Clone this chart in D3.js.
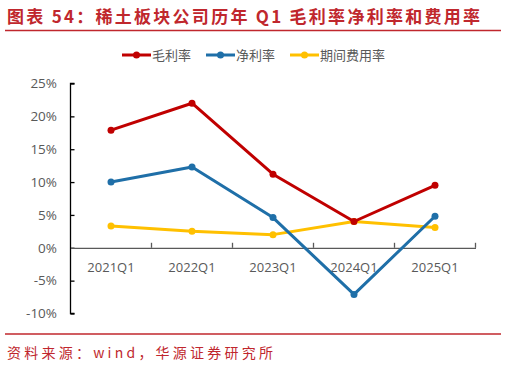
<!DOCTYPE html>
<html>
<head>
<meta charset="utf-8">
<script src="https://cdn.jsdelivr.net/npm/d3@7"></script>
<style>
  html, body { margin: 0; padding: 0; background: #fff; }
  svg { display: block; }
</style>
</head>
<body>
<div id="viz"></div>
<script>
// Rare earth companies, Q1 margins (%)
var quarters = ["2021Q1", "2022Q1", "2023Q1", "2024Q1", "2025Q1"];
var grossMargin = [17.9, 22.0, 11.2, 4.0, 9.5];
var netMargin = [10.0, 12.3, 4.6, -7.1, 4.8];
var expenseRatio = [3.3, 2.5, 2.0, 4.0, 3.1];
var seriesNames = ["毛利率", "净利率", "期间费用率"];
var yTicks = [-10, -5, 0, 5, 10, 15, 20, 25];

var W = 506, H = 367;
var red = "#c00000", blue = "#1f6fa8", yellow = "#ffc000";
var colors = [red, blue, yellow];
var font = "'Noto Sans CJK SC', 'Noto Sans', sans-serif";
var numFont = "'Open Sans', 'Noto Sans CJK SC', sans-serif";

var svg = d3.select("#viz").append("svg")
    .attr("width", W).attr("height", H);

// title + rules
svg.append("text")
    .attr("x", 7).attr("y", 23)
    .attr("textLength", 473).attr("lengthAdjust", "spacing")
    .attr("fill", "#c0272d")
    .style("font", "bold 17px " + font)
    .text("图表 54：稀土板块公司历年 Q1 毛利率净利率和费用率");
svg.append("line").attr("x1", 5).attr("x2", 501).attr("y1", 30.5).attr("y2", 30.5)
    .attr("stroke", "#c0272d").attr("stroke-width", 1.5);
svg.append("line").attr("x1", 5).attr("x2", 501).attr("y1", 334).attr("y2", 334)
    .attr("stroke", "#c0272d").attr("stroke-width", 1.5);
svg.append("text")
    .attr("x", 7).attr("y", 358)
    .attr("textLength", 266).attr("lengthAdjust", "spacing")
    .attr("fill", "#c0272d")
    .style("font", "14px 'Noto Sans CJK SC', monospace")
    .text("资料来源：wind，华源证券研究所");

// scales
var x = d3.scaleBand().domain(quarters).range([70.5, 475.5]);
var y = d3.scaleLinear().domain([-10, 25]).range([313.5, 83.5]);
var cx = function(d, i) { return x(quarters[i]) + x.bandwidth() / 2; };

// y axis
var yAxis = svg.append("g")
    .attr("transform", "translate(70.5,0)")
    .call(d3.axisRight(y).tickValues(yTicks).tickSize(4).tickFormat(function(d) { return ""; }));
yAxis.select(".domain").attr("d", "M4,83.5H0V313.5H4").attr("stroke", "#000").attr("stroke-width", 1.3);
yAxis.selectAll(".tick line").attr("stroke", "#000").attr("stroke-width", 1.3);

svg.append("g").selectAll("text")
    .data(yTicks).join("text")
    .attr("x", 57).attr("y", function(d) { return y(d); })
    .attr("dy", "0.35em").attr("text-anchor", "end")
    .attr("fill", "#595959")
    .style("font", "13.5px " + numFont)
    .text(function(d) { return d + "%"; });

// x axis at 0%
var xAxis = svg.append("g")
    .attr("transform", "translate(0," + y(0) + ")")
    .call(d3.axisTop(x).tickSize(0).tickFormat(""));
xAxis.select(".domain").attr("stroke", "#595959").attr("stroke-width", 1.3);
svg.append("g").selectAll("line")
    .data(quarters).join("line")
    .attr("x1", function(d) { return x(d) + x.bandwidth(); })
    .attr("x2", function(d) { return x(d) + x.bandwidth(); })
    .attr("y1", y(0)).attr("y2", y(0) - 5)
    .attr("stroke", "#595959").attr("stroke-width", 1.3);
svg.append("g").selectAll("text")
    .data(quarters).join("text")
    .attr("x", function(d) { return x(d) + x.bandwidth() / 2; })
    .attr("y", y(0) + 20)
    .attr("dy", "0.35em").attr("text-anchor", "middle")
    .attr("fill", "#595959")
    .style("font", "13px " + numFont)
    .text(function(d) { return d; });

// lines
var allSeries = [grossMargin, netMargin, expenseRatio];
var line = d3.line().x(cx).y(function(d) { return y(d); });
var drawOrder = [2, 1, 0];
drawOrder.forEach(function(k) {
    var g = svg.append("g");
    g.append("path").datum(allSeries[k])
        .attr("d", line).attr("fill", "none")
        .attr("stroke", colors[k]).attr("stroke-width", 3)
        .attr("stroke-linejoin", "round");
    g.selectAll("circle").data(allSeries[k]).join("circle")
        .attr("cx", cx).attr("cy", function(d) { return y(d); })
        .attr("r", 3.5).attr("fill", colors[k]);
});

// legend
var legendX = [122, 206, 290];
var legend = svg.append("g").selectAll("g")
    .data(seriesNames).join("g")
    .attr("transform", function(d, i) { return "translate(" + legendX[i] + ",55)"; });
legend.append("line").attr("x1", 0).attr("x2", 29)
    .attr("stroke", function(d, i) { return colors[i]; }).attr("stroke-width", 3);
legend.append("circle").attr("cx", 14.5).attr("r", 3.5)
    .attr("fill", function(d, i) { return colors[i]; });
legend.append("text").attr("x", 30).attr("dy", "0.35em")
    .attr("fill", "#595959")
    .style("font", "13px " + font)
    .text(function(d) { return d; });
</script>
</body>
</html>
